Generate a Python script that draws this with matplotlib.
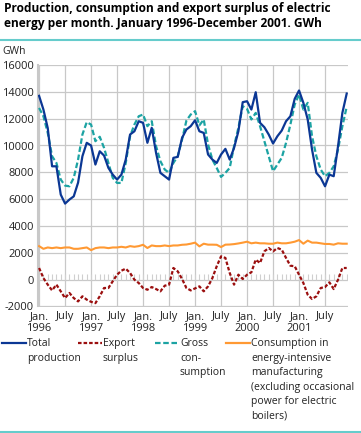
import numpy as np
import matplotlib
matplotlib.use("Agg")
import matplotlib.pyplot as plt
from matplotlib.lines import Line2D

plt.rcParams['font.family'] = ['Open Sans', 'DejaVu Sans']

# Monthly values, January 1996 - December 2001 (GWh)
total_production = [
    13700, 12680, 11300, 8450, 8450, 6340, 5670, 5970, 6210, 7230, 9200, 10200,
    10000, 8580, 9570, 9250, 8330, 7830, 7460, 7830, 8950, 10820, 11060, 11810,
    11690, 10200, 11320, 9450, 7960, 7710, 7460, 9080, 9150, 10570, 11190, 11440,
    11880, 11060, 10940, 9330, 8950, 8700, 9330, 9750, 8950, 9820, 11060, 13230,
    13300, 12680, 13970, 11690, 11360, 10820, 10150, 10690, 11110, 11810, 12180, 13480,
    14100, 13180, 11940, 9700, 7960, 7590, 6960, 7830, 7710, 9950, 12430, 13870,
]
gross_consumption = [
    12800, 12180, 10940, 9200, 8700, 7460, 7010, 6960, 7590, 8950, 10820, 11740,
    11560, 10320, 10650, 9820, 8700, 7590, 7210, 7210, 8700, 10690, 11560, 12180,
    12310, 11440, 11810, 9950, 8830, 8210, 7960, 8700, 9200, 10440, 11850, 12310,
    12560, 11500, 11940, 10070, 8950, 8330, 7660, 7960, 8330, 9950, 11320, 12930,
    12730, 11940, 12430, 11440, 10320, 9200, 8080, 8580, 9080, 10200, 11560, 13060,
    13800, 12680, 13180, 10690, 9200, 8210, 7710, 7960, 8450, 9700, 11440, 12880,
]
export_surplus = [
    870, 120, -370, -800, -370, -870, -1370, -990, -1370, -1620, -1240, -1490,
    -1650, -1750, -1240, -620, -620, -120, 370, 670, 820, 500, 0, -250,
    -620, -750, -550, -700, -870, -450, -370, 870, 620, 50, -620, -800,
    -650, -500, -870, -500, 120, 1000, 1740, 1620, 500, -370, 370, 50,
    370, 550, 1490, 1240, 2110, 2360, 2110, 2360, 2240, 1620, 1040, 1000,
    370, -250, -1120, -1440, -1240, -620, -550, -200, -700, 0, 870, 870,
]
energy_intensive = [
    2500, 2300, 2400, 2350, 2400, 2350, 2400, 2400, 2300, 2300, 2350, 2400,
    2200, 2350, 2400, 2400, 2350, 2400, 2400, 2450, 2400, 2500, 2450, 2500,
    2600, 2360, 2550, 2500, 2500, 2550, 2500, 2550, 2550, 2600, 2620, 2680,
    2760, 2480, 2680, 2610, 2610, 2600, 2430, 2610, 2620, 2650, 2700, 2760,
    2830, 2710, 2760, 2710, 2710, 2680, 2680, 2760, 2710, 2710, 2760, 2830,
    2950, 2680, 2910, 2760, 2760, 2710, 2660, 2660, 2610, 2710, 2680, 2680,
]
years = ['1996', '1997', '1998', '1999', '2000', '2001']
y_ticks = [-2000, 0, 2000, 4000, 6000, 8000, 10000, 12000, 14000, 16000]

months = np.arange(len(total_production))
W, H = 361, 433

fig = plt.figure(figsize=(W / 100, H / 100), dpi=100)
ax = fig.add_axes([38 / W, 1 - 306.5 / H, 310 / W, 241.5 / H])

grid_c = '#c8c8c8'
for sp in ['top', 'right', 'bottom']:
    ax.spines[sp].set_visible(False)
ax.spines['left'].set_color(grid_c)
ax.spines['left'].set_linewidth(1.5)

ax.set_ylim(-2000, 16000)
ax.set_xlim(-0.25, 71.3)
ax.set_yticks(y_ticks)
ax.set_yticklabels([str(v) for v in y_ticks], fontsize=8, color='#222222')

xt = np.arange(0, 72, 6)
xl = []
for i, t in enumerate(xt):
    xl.append('Jan.\n' + years[i // 2] if i % 2 == 0 else 'July\n')
ax.set_xticks(xt)
ax.set_xticklabels(xl, fontsize=8, color='#222222', linespacing=1.15)
ax.tick_params(length=0, pad=3)
ax.grid(True, color=grid_c, linewidth=0.9)
ax.set_axisbelow(True)

# small monthly ticks on the zero line
ax.vlines(months, 0, 420, color='#cfcfcf', linewidth=0.8, zorder=1)

ax.plot(months, energy_intensive, color='#ff9933', lw=1.5, zorder=3)
ax.plot(months, export_surplus, color='#9b0f0f', lw=1.6, ls=(0, (1.6, 0.9)), zorder=3)
ax.plot(months, gross_consumption, color='#1ca3a3', lw=1.6, ls=(0, (2.5, 1.2)), zorder=3)
ax.plot(months, total_production, color='#0b3794', lw=1.6, zorder=4)

# title and rules
fig.text(4 / W, 1 - 2 / H, 'Production, consumption and export surplus of electric\n'
         'energy per month. January 1996-December 2001. GWh',
         fontsize=8.6, fontweight='bold', va='top', ha='left', linespacing=1.2)
rule_c = '#66cccc'
fig.add_artist(Line2D([0, 1], [1 - 39.5 / H] * 2, color=rule_c, lw=1.5))
fig.add_artist(Line2D([0, 1], [1 - 431.5 / H] * 2, color=rule_c, lw=1.5))
fig.text(2 / W, 1 - 51 / H, 'GWh', fontsize=7.5, va='center', ha='left', color='#222222')

# legend
entries = [
    (2, 'Total\nproduction', dict(color='#0b3794', lw=1.6)),
    (78, 'Export\nsurplus', dict(color='#9b0f0f', lw=1.6, ls=(0, (1.6, 0.9)))),
    (155, 'Gross\ncon-\nsumption', dict(color='#1ca3a3', lw=1.6, ls=(0, (2.5, 1.2)))),
    (226, 'Consumption in\nenergy-intensive\nmanufacturing\n(excluding occasional\n'
          'power for electric\nboilers)', dict(color='#ff9933', lw=1.6)),
]
ly = 343
for x0, label, style in entries:
    fig.add_artist(Line2D([x0 / W, (x0 + 24) / W], [1 - ly / H] * 2, **style))
    fig.text((x0 + 25) / W, 1 - (ly - 5) / H, label, fontsize=7.5, va='top', ha='left',
             linespacing=1.45, color='#222222')

fig.savefig('out.png', dpi=100)
